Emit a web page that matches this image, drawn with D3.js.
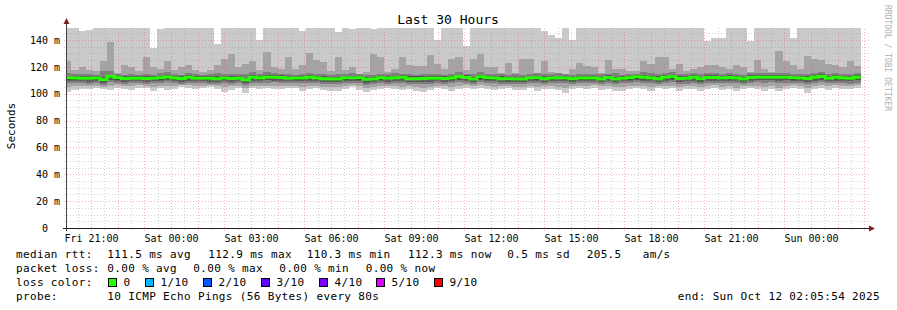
<!DOCTYPE html>
<html>
<head>
<meta charset="utf-8">
<script src="https://d3js.org/d3.v7.min.js"></script>
<style>
body { margin:0; background:#fff; }
svg text { font-family: "DejaVu Sans Mono", monospace; fill:#000; }
.grid line { shape-rendering: crispEdges; }
</style>
</head>
<body>
<div id="chart"></div>
<script>
// 112 consolidated steps of 960 s, first step starts Fri 20:00 (local)
var stepSec = 960;
var firstStep = new Date(2025, 9, 10, 20, 0, 0);
var viewStart = new Date(2025, 9, 10, 20, 5, 54);
var viewEnd = new Date(2025, 9, 12, 2, 5, 54);

// median rtt (ms) per step
var median = [
  111.8,111.6,111.5,111.5,111.7,110.6,112.9,111.8,111.3,111.4,111.5,111.3,111.4,111.8,112.5,111.6,111.3,112.2,111.5,111.4,111.5,111.2,111.6,111.3,111.4,110.3,112.2,111.7,
  112.3,112.2,112.0,111.5,111.6,111.7,112.3,111.6,111.2,111.0,110.9,111.8,111.9,111.8,110.7,111.0,111.8,111.4,111.9,112.2,111.2,111.2,111.3,111.4,111.5,111.3,111.6,112.7,
  112.0,111.0,112.6,111.8,111.6,111.2,111.1,110.9,110.9,111.9,111.8,111.2,111.6,111.9,111.6,111.1,111.7,111.6,111.7,111.0,112.0,111.0,111.5,111.8,112.6,112.2,111.6,111.2,
  112.2,112.6,111.3,111.5,112.2,111.1,112.0,112.0,111.6,112.0,111.6,111.0,112.0,112.3,112.3,112.3,112.2,112.3,111.8,111.7,111.3,112.2,112.7,111.5,112.2,111.6,111.5,112.3
];
// loss per step (out of 10 pings)
var loss = median.map(function(){ return 0; });

// sorted pings per step (ms): ping1 = fastest ... ping10 = slowest
var ping1 = [
  101.5,102.5,103.6,103.3,104.0,103.8,102.5,104.2,103.3,102.8,104.6,104.0,102.0,104.0,102.8,103.5,105.2,104.6,103.3,104.0,104.8,103.3,101.6,102.8,104.0,100.2,104.0,103.3,
  104.6,103.5,103.5,104.0,104.0,101.8,103.5,104.2,102.5,102.0,101.8,103.3,105.0,103.0,101.5,102.5,103.8,104.2,103.3,102.5,103.8,101.8,101.5,102.8,104.0,103.5,102.2,103.8,
  104.5,103.3,104.2,103.8,102.5,103.3,104.0,103.0,102.5,104.0,102.0,103.5,103.8,102.5,100.7,103.5,104.0,103.3,104.5,102.8,103.5,101.8,102.2,103.5,104.0,103.8,102.2,104.0,
  103.3,104.0,102.0,103.3,103.8,102.3,103.5,104.2,102.6,103.5,102.0,103.8,104.0,103.3,102.3,103.5,101.8,103.8,104.0,103.5,100.6,103.5,104.0,103.0,104.2,103.5,103.8,104.0
];
var ping2 = [
  105.0,105.5,105.8,105.6,106.0,105.2,105.8,106.2,105.5,105.4,106.2,106.0,104.8,106.0,105.6,105.8,106.5,106.2,105.7,106.0,106.3,105.5,104.8,105.4,106.0,104.2,106.0,105.6,
  106.0,105.8,105.8,106.0,106.0,104.8,105.8,106.0,105.2,104.8,104.8,105.6,106.4,105.5,104.6,105.0,106.0,106.0,105.6,105.2,105.8,104.8,104.6,105.2,106.0,105.8,105.0,106.0,
  106.2,105.6,106.2,105.8,105.2,105.6,106.0,105.2,104.8,106.0,104.8,105.8,106.0,105.2,104.0,105.8,106.0,105.6,106.2,105.4,105.8,104.8,105.0,105.8,106.0,106.0,105.0,106.0,
  105.6,106.0,104.8,105.8,106.0,104.8,105.8,106.2,105.0,105.8,104.6,105.8,106.0,105.6,104.8,105.8,104.6,106.0,106.2,105.8,104.0,105.8,106.2,105.4,106.2,105.8,106.0,106.2
];
var ping3 = [
  107.8,107.9,107.6,107.5,107.9,106.5,108.8,108.0,107.4,107.8,107.6,107.2,107.9,107.8,108.5,107.9,107.2,108.2,107.6,107.8,107.4,107.2,107.8,107.3,107.6,106.4,108.2,107.9,
  108.3,108.4,108.2,107.6,107.9,107.7,108.3,107.8,107.1,107.2,106.9,108.0,107.9,108.0,106.7,107.0,108.0,107.4,107.8,108.3,107.2,107.5,107.3,107.5,107.6,107.3,107.7,108.6,
  108.0,107.1,108.6,107.9,107.8,107.3,107.0,106.9,107.2,107.9,107.8,107.3,107.8,107.9,107.6,107.2,107.7,107.7,107.9,107.0,108.0,107.0,107.7,107.8,108.5,108.3,107.8,107.2,
  108.2,108.7,107.5,107.5,108.2,107.3,108.2,108.0,107.6,108.2,107.6,107.1,108.0,108.4,108.3,108.5,108.2,108.3,107.9,107.6,107.2,108.3,108.7,107.6,108.2,107.8,107.5,108.3
];
var ping4 = [
  109.4,109.2,109.3,109.0,109.3,108.2,110.4,109.5,108.9,109.2,109.1,108.8,109.3,109.4,110.0,109.3,108.8,109.8,109.1,109.2,109.0,108.7,109.3,108.9,109.1,108.0,109.8,109.4,
  109.9,109.8,109.7,109.2,109.3,109.2,109.8,109.3,108.7,108.6,108.5,109.6,109.4,109.5,108.2,108.6,109.5,109.0,109.4,109.8,108.8,108.9,108.9,109.0,109.2,108.8,109.3,110.2,
  109.6,108.6,110.2,109.4,109.2,108.9,108.6,108.5,108.6,109.5,109.4,108.8,109.3,109.5,109.2,108.7,109.3,109.2,109.4,108.6,109.6,108.5,109.2,109.4,110.1,109.8,109.3,108.8,
  109.8,110.2,109.0,109.1,109.8,108.8,109.7,109.6,109.2,109.7,109.3,108.6,109.6,109.9,109.9,110.0,109.8,109.9,109.4,109.3,108.8,109.8,110.3,109.1,109.8,109.3,109.1,109.9
];
var ping5 = [
  110.5,110.3,110.2,110.2,110.4,109.3,111.5,110.5,110.0,110.1,110.2,110.0,110.1,110.5,111.2,110.3,110.0,110.9,110.2,110.1,110.2,109.9,110.3,110.0,110.1,109.1,110.9,110.4,
  111.0,110.9,110.7,110.2,110.3,110.4,111.0,110.3,109.9,109.7,109.6,110.5,110.6,110.5,109.4,109.7,110.5,110.1,110.6,110.9,109.9,109.9,110.0,110.1,110.2,110.0,110.3,111.4,
  110.7,109.7,111.3,110.5,110.3,109.9,109.8,109.6,109.6,110.6,110.5,109.9,110.3,110.6,110.3,109.8,110.4,110.3,110.4,109.7,110.7,109.7,110.2,110.5,111.3,110.9,110.3,109.9,
  110.9,111.3,110.0,110.2,110.9,109.8,110.7,110.7,110.3,110.7,110.3,109.7,110.7,111.0,111.0,111.0,110.9,111.0,110.5,110.4,110.0,110.9,111.4,110.2,110.9,110.3,110.2,111.0
];
var ping6 = [
  112.3,112.1,112.0,112.0,112.2,111.1,113.3,112.3,111.8,111.9,112.0,111.8,111.9,112.3,113.0,112.1,111.8,112.7,112.0,111.9,112.0,111.7,112.1,111.8,111.9,110.9,112.7,112.2,
  112.8,112.7,112.5,112.0,112.1,112.2,112.8,112.1,111.7,111.5,111.4,112.3,112.4,112.3,111.2,111.5,112.3,111.9,112.4,112.7,111.7,111.7,111.8,111.9,112.0,111.8,112.1,113.2,
  112.5,111.5,113.1,112.3,112.1,111.7,111.6,111.4,111.4,112.4,112.3,111.7,112.1,112.4,112.1,111.6,112.2,112.1,112.2,111.5,112.5,111.5,112.0,112.3,113.1,112.7,112.1,111.7,
  112.7,113.1,111.8,112.0,112.7,111.6,112.5,112.5,112.1,112.5,112.1,111.5,112.5,112.8,112.8,112.8,112.7,112.8,112.3,112.2,111.8,112.7,113.2,112.0,112.7,112.1,112.0,112.8
];
var ping7 = [
  113.4,113.2,113.0,113.2,113.3,112.6,114.2,113.4,112.9,113.0,113.2,112.9,113.0,113.4,114.0,113.2,112.9,113.8,113.1,113.0,113.1,112.8,113.2,113.0,113.0,112.0,113.8,113.3,
  113.9,113.8,113.6,113.1,113.2,113.3,113.9,113.2,112.8,112.6,112.6,113.4,113.5,113.4,112.3,112.6,113.4,113.0,113.5,113.8,112.8,112.8,112.9,113.0,113.1,112.9,113.2,114.2,
  113.6,112.6,114.2,113.4,113.2,112.8,112.7,112.5,112.5,113.5,113.4,112.8,113.2,113.5,113.2,112.7,113.3,113.2,113.3,112.6,113.6,112.6,113.1,113.4,114.2,113.8,113.2,112.8,
  113.8,114.2,112.9,113.1,113.8,112.7,113.6,113.6,113.2,113.6,113.2,112.6,113.6,113.9,113.9,113.9,113.8,113.9,113.4,113.3,112.9,113.8,114.3,113.1,113.8,113.2,113.1,113.9
];
var ping8 = [
  115.2,114.6,114.3,114.8,114.0,116.8,117.0,114.5,114.2,114.8,113.8,114.6,114.0,115.3,115.8,114.5,114.2,115.5,114.8,114.0,114.3,115.5,114.6,115.0,114.3,115.0,115.8,114.5,
  115.8,115.3,114.8,114.6,114.2,115.0,115.6,114.8,114.3,114.0,114.5,114.8,115.2,114.8,113.8,114.2,115.0,114.6,115.3,115.0,114.4,114.2,114.5,114.8,115.0,114.2,114.8,116.0,
  115.0,114.3,115.8,115.0,114.8,114.5,114.2,114.3,114.0,115.0,115.2,114.5,114.8,115.3,114.8,114.2,115.0,114.8,114.6,115.0,114.3,115.4,114.2,114.6,115.0,115.8,115.4,114.6,
  115.6,116.0,114.6,114.8,115.4,114.5,115.2,115.3,114.8,115.3,114.8,114.2,115.2,115.5,115.3,115.2,115.4,115.5,115.0,114.8,114.6,115.5,116.0,114.8,115.4,114.8,114.8,115.4
];
var ping9 = [
  124,117.5,119.6,117.5,117,124,138.4,115.3,121.4,120.2,117,127,119.6,118.6,124,118,120.2,121.4,117.7,116,117.7,121,125.7,129.5,120.2,122,124,117.7,
  131,120,118.6,127.5,118.6,121.4,130,125,123.5,117,127,117.7,119.5,114.5,116,129.5,127,116.5,118.6,127,121,120.5,120.5,129,121.8,118.6,125.5,127,
  117.7,126,129.5,120.2,120.2,115.3,123,115.3,125.7,126,115.3,124.6,116.5,115.3,114.5,118.6,123,120.5,119.6,115.3,125,118.4,118.4,117,117,124.6,122,127,
  127,118.4,122,117,118.6,120,121,121,120,118.6,121.4,120,116.5,125.3,118.6,116,131.5,124.7,121,118.6,128.4,125.7,125.3,121.8,121.4,119.6,124.7,120.5
];
// slowest ping; 150 = above the top of the graph
var ping10 = [
  150,150,146.3,147.5,150,150,150,150,150,150,150,150,134.3,148,150,150,150,150,150,150,150,137,150,150,150,150,150,140.3,
  150,150,150,150,150,146.5,150,150,150,150,145.8,150,148.5,150,150,148.5,150,150,150,150,150,150,150,150,139.6,150,150,150,
  135.8,150,150,150,150,150,150,150,150,150,150,147,143.5,141.5,150,140,150,150,150,150,150,150,150,150,150,150,150,150,
  150,150,150,150,150,150,139,141.5,141.5,150,150,150,139,150,150,150,150,150,141.7,150,150,150,150,150,150,150,150,150
];

var yTicks = [0, 20, 40, 60, 80, 100, 120, 140];
var lossLabels = ["0", "1/10", "2/10", "3/10", "4/10", "5/10", "9/10"];
var lossColors = ["#26ff00", "#00b8ff", "#0059ff", "#5e00ff", "#7e00ff", "#dd00ff", "#ff0000"];
var rttStats = ["111.5 ms avg", "112.9 ms max", "110.3 ms min", "112.3 ms now", "0.5 ms sd", "205.5", "am/s"];
var lossStats = ["0.00 % avg", "0.00 % max", "0.00 % min", "0.00 % now"];

var W = 897, H = 310;
var plotL = 67, plotR = 867, plotT = 28, plotB = 228;

var svg = d3.select('#chart').append('svg')
    .attr('width', W).attr('height', H);

var x = d3.scaleTime().domain([viewStart, viewEnd]).range([plotL, plotR]);
var y = d3.scaleLinear().domain([0, 148.9]).range([plotB, plotT]);

var pings = [ping1, ping2, ping3, ping4, ping5, ping6, ping7, ping8, ping9, ping10];
var steps = median.map(function(m, i){
    return { t: new Date(+firstStep + i * stepSec * 1000), med: m, loss: loss[i],
             p: pings.map(function(a){ return a[i]; }) };
});
// closing point so the last step gets its full width
var last = steps[steps.length - 1];
var stepsEnd = steps.concat([{ t: new Date(+last.t + stepSec * 1000), med: last.med, loss: last.loss, p: last.p }]);

svg.append('clipPath').attr('id', 'plot')
  .append('rect').attr('x', plotL).attr('y', plotT).attr('width', plotR - plotL).attr('height', plotB - plotT);

// smoke: ping k .. ping (11-k), darker towards the median
var shades = [202, 164, 126, 88, 50];
var smoke = svg.append('g').attr('clip-path', 'url(#plot)');
shades.forEach(function(c, k){
    var area = d3.area()
        .x(function(d){ return x(d.t); })
        .y0(function(d){ return y(d.p[k]); })
        .y1(function(d){ return y(d.p[9 - k]); })
        .curve(d3.curveStepAfter);
    smoke.append('path').datum(stepsEnd)
        .attr('d', area)
        .attr('fill', d3.rgb(c, c, c))
        .attr('shape-rendering', 'crispEdges');
});

// grid
var grid = svg.append('g').attr('class', 'grid');
var minorY = d3.range(5, 149, 5).filter(function(v){ return v % 20 !== 0; });
var majorY = d3.range(20, 149, 20);
var hours = d3.timeHour.range(viewStart, viewEnd);
var halfHours = d3.timeMinute.every(30).range(viewStart, viewEnd)
    .filter(function(t){ return t.getMinutes() !== 0; });

function px(v){ return Math.round(v) + 0.5; }
var minorCol = 'rgba(150,150,150,0.4)', majorCol = 'rgba(230,90,90,0.45)';

grid.selectAll('.hmin').data(minorY).enter().append('line')
    .attr('x1', plotL - 3).attr('x2', plotR + 2)
    .attr('y1', function(d){ return px(y(d)); }).attr('y2', function(d){ return px(y(d)); })
    .attr('stroke', minorCol).attr('stroke-dasharray', '1,2');
grid.selectAll('.vmin').data(halfHours).enter().append('line')
    .attr('x1', function(d){ return px(x(d)); }).attr('x2', function(d){ return px(x(d)); })
    .attr('y1', plotB + 2).attr('y2', plotT)
    .attr('stroke', minorCol).attr('stroke-dasharray', '1,2');
grid.selectAll('.hmaj').data(majorY).enter().append('line')
    .attr('x1', plotL - 3).attr('x2', plotR + 2)
    .attr('y1', function(d){ return px(y(d)); }).attr('y2', function(d){ return px(y(d)); })
    .attr('stroke', majorCol).attr('stroke-dasharray', '1,2');
grid.selectAll('.vmaj').data(hours).enter().append('line')
    .attr('x1', function(d){ return px(x(d)); }).attr('x2', function(d){ return px(x(d)); })
    .attr('y1', plotB + 3).attr('y2', plotT)
    .attr('stroke', majorCol).attr('stroke-dasharray', '1,2');

// median line, coloured by loss
var medLine = d3.line()
    .x(function(d){ return x(d.t); })
    .y(function(d){ return y(d.med); })
    .curve(d3.curveStepAfter);
svg.append('g').attr('clip-path', 'url(#plot)')
  .append('path').datum(stepsEnd)
    .attr('d', medLine)
    .attr('fill', 'none')
    .attr('stroke', lossColors[0])
    .attr('stroke-width', 3);

// axes lines + arrows
svg.append('line').attr('x1', plotL - 0.5).attr('x2', plotL - 0.5).attr('y1', plotB + 3).attr('y2', 22)
    .attr('stroke', '#404040');
svg.append('line').attr('x1', plotL - 4).attr('x2', 871).attr('y1', plotB + 0.5).attr('y2', plotB + 0.5)
    .attr('stroke', '#202020');
svg.append('path').attr('d', 'M63.5,24 L66.5,18 L69.5,24 Z').attr('fill', '#7f1f1f');
svg.append('path').attr('d', 'M869,225.5 L875,228.5 L869,231.5 Z').attr('fill', '#7f1f1f');

// axis labels
var yAxis = svg.append('g').attr('transform', 'translate(' + plotL + ',0)')
    .call(d3.axisLeft(y).tickValues(yTicks).tickSize(0).tickPadding(7)
        .tickFormat(function(v){ return v === 0 ? '0\u00a0\u00a0' : v + ' m'; }));
yAxis.select('.domain').remove();
yAxis.selectAll('text').attr('font-family', '"DejaVu Sans Mono", monospace').attr('font-size', 10).attr('fill', '#000');

var xAxis = svg.append('g').attr('transform', 'translate(0,' + plotB + ')')
    .call(d3.axisBottom(x).ticks(d3.timeHour.every(3)).tickSize(0).tickPadding(6.5)
        .tickFormat(d3.timeFormat('%a %H:%M')));
xAxis.select('.domain').remove();
xAxis.selectAll('text').attr('font-family', '"DejaVu Sans Mono", monospace').attr('font-size', 10).attr('fill', '#000');

// title and side texts
svg.append('text').attr('x', 448).attr('y', 24).attr('text-anchor', 'middle')
    .attr('font-size', 13).text('Last 30 Hours');
svg.append('text').attr('transform', 'translate(15,126) rotate(-90)').attr('text-anchor', 'middle')
    .attr('font-size', 11).text('Seconds');
svg.append('text').attr('transform', 'translate(885,5) rotate(90)')
    .attr('font-size', 8).style('fill', '#b0b0b0').text('RRDTOOL / TOBI OETIKER');

// legend
var leg = svg.append('g').attr('font-size', 11).attr('letter-spacing', 0.35);
var rows = [258, 272, 286, 300];
leg.append('text').attr('x', 16).attr('y', rows[0]).text('median rtt:');
var rttX = [107.3, 208.3, 306.7, 408, 507.3, 586.7, 642.7];
rttStats.forEach(function(s, i){ leg.append('text').attr('x', rttX[i]).attr('y', rows[0]).text(s); });

leg.append('text').attr('x', 16).attr('y', rows[1]).text('packet loss:');
var lossX = [107.3, 193.3, 279.3, 365.7];
lossStats.forEach(function(s, i){ leg.append('text').attr('x', lossX[i]).attr('y', rows[1]).text(s); });

leg.append('text').attr('x', 16).attr('y', rows[2]).text('loss color:');
var boxX = [108.5, 145.5, 203.5, 261.5, 319.5, 376.5, 434.5];
lossLabels.forEach(function(s, i){
    leg.append('rect').attr('x', boxX[i]).attr('y', 278.5).attr('width', 8).attr('height', 8)
        .attr('fill', lossColors[i]).attr('stroke', '#000').attr('stroke-width', 1);
    leg.append('text').attr('x', boxX[i] + 15).attr('y', rows[2]).text(s);
});

leg.append('text').attr('x', 16).attr('y', rows[3]).text('probe:');
leg.append('text').attr('x', 107.3).attr('y', rows[3]).text('10 ICMP Echo Pings (56 Bytes) every 80s');
leg.append('text').attr('x', 880).attr('y', rows[3]).attr('text-anchor', 'end')
    .text('end: Sun Oct 12 02:05:54 2025');
</script>
</body>
</html>
